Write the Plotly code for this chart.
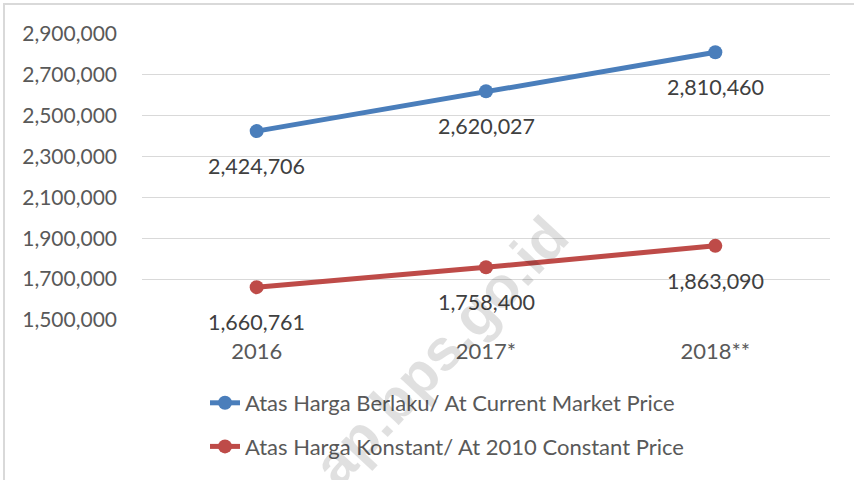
import plotly.graph_objects as go

categories = ["2016", "2017*", "2018**"]
current_price = [2424706, 2620027, 2810460]
constant_price = [1660761, 1758400, 1863090]
series_names = ["Atas Harga Berlaku/ At Current Market Price",
                "Atas Harga Konstant/ At 2010 Constant Price"]
y_ticks = [1500000, 1700000, 1900000, 2100000, 2300000, 2500000, 2700000, 2900000]

BLUE = "#4A7EBB"
RED = "#BE4B48"
FONT = "Lato"
W, H = 854, 480
L, R, T, B = 142, 24, 34, 160
PW, PH = W - L - R, H - T - B

def px_x(x):
    return (x - L) / PW

def px_y(y):
    return (H - B - y) / PH

fig = go.Figure()
for name, vals, col, grp in [(series_names[0], current_price, BLUE, "a"),
                             (series_names[1], constant_price, RED, "b")]:
    fig.add_trace(go.Scatter(
        x=categories, y=vals, name=name, mode="lines+markers",
        legendgroup=grp,
        line=dict(color=col, width=5),
        marker=dict(color=col, size=14),
        cliponaxis=False,
    ))
    for i, v in enumerate(vals):
        fig.add_annotation(x=i, y=v, text=f"{v:,}", showarrow=False,
                           yshift=-35, font=dict(family=FONT, size=21.5, color="#404040"))

# watermark
fig.add_annotation(xref="paper", yref="paper", x=px_x(440), y=px_y(350),
                   text="<b>ap.bps.go.id</b>", showarrow=False, textangle=-47,
                   font=dict(family="Liberation Sans", size=58, color="rgba(0,0,0,0.12)"),
                   xanchor="center", yanchor="middle")

# chart border
fig.add_shape(type="rect", xref="paper", yref="paper",
              x0=px_x(4), x1=px_x(W + 20), y0=px_y(4), y1=px_y(H + 20),
              line=dict(color="#D9D9D9", width=2), layer="below")

fig.update_layout(
    width=W, height=H,
    margin=dict(l=L, r=R, t=T, b=B, autoexpand=False),
    paper_bgcolor="white", plot_bgcolor="white",
    font=dict(family=FONT, size=21, color="#595959"),
    showlegend=True,
    legend=dict(x=px_x(205), y=px_y(382), xanchor="left", yanchor="top",
                font=dict(family=FONT, size=22, color="#595959"),
                tracegroupgap=12, bgcolor="rgba(0,0,0,0)"),
)
fig.update_xaxes(type="category", showgrid=False, showline=False, zeroline=False,
                 ticks="", ticklabelstandoff=16, range=[-0.5, 2.5],
                 tickfont=dict(size=22))
fig.update_yaxes(range=[1500000, 2900000], tickvals=y_ticks, tickformat=",",
                 showgrid=True, gridcolor="#D9D9D9", gridwidth=1.3,
                 showline=False, zeroline=False, ticks="", ticklabelstandoff=24)

fig.write_html("out.html", config={"displayModeBar": False},
               post_script="document.body.style.margin='0px';")
